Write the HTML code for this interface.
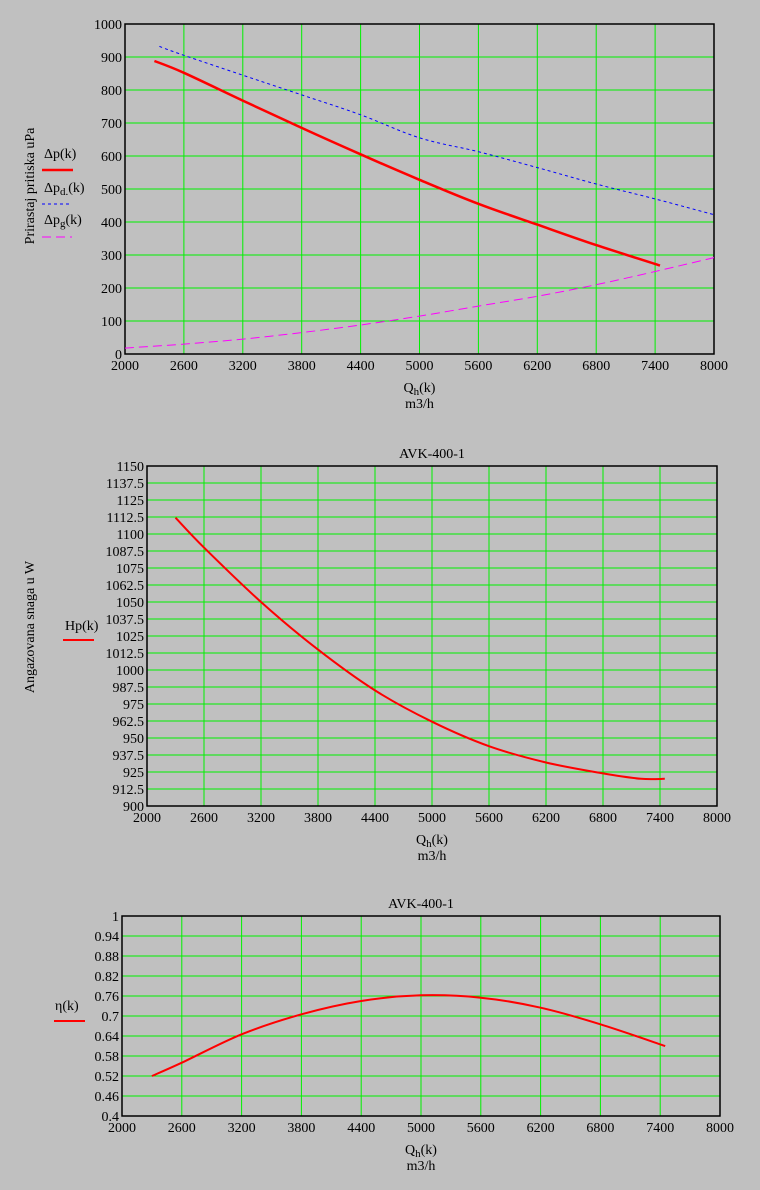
<!DOCTYPE html>
<html><head><meta charset="utf-8"><style>
body{margin:0;background:#c0c0c0;width:760px;height:1190px;overflow:hidden;font-family:"Liberation Serif",serif}
svg{position:absolute;left:0;top:0}
text{font-family:"Liberation Serif",serif;font-size:14px;fill:#000}
</style></head><body>
<svg id="s" width="760" height="1190"></svg>
<script>
const xCats=[2000,2600,3200,3800,4400,5000,5600,6200,6800,7400,8000];
const c1Q=[2300,2600,3200,3800,4400,5000,5600,6200,6800,7450];
const c1P=[888,852,768,685,605,528,455,392,330,268];
const c1Qd=[2350,2600,3200,3800,4400,5000,5600,6200,6800,7400,8000];
const c1Pd=[932,905,845,785,725,655,613,565,515,470,422];
const c1Qg=[2000,2600,3200,3800,4400,5000,5600,6200,6800,7400,8000];
const c1Pg=[18,30,45,65,88,115,145,175,210,250,292];
const c1Ticks=[0,100,200,300,400,500,600,700,800,900,1000];
const c2Q=[2300,2600,3200,3800,4400,5000,5600,6200,6800,7200,7450];
const c2H=[1112,1090,1050,1015,985,962,944,932,924,920,920];
const c2Ticks=["900","912.5","925","937.5","950","962.5","975","987.5","1000","1012.5","1025","1037.5","1050","1062.5","1075","1087.5","1100","1112.5","1125","1137.5","1150"];
const c3Q=[2300,2600,3200,3800,4400,5000,5600,6200,6800,7450];
const c3E=[0.52,0.56,0.645,0.705,0.745,0.762,0.755,0.725,0.675,0.61];
const c3Ticks=["0.4","0.46","0.52","0.58","0.64","0.7","0.76","0.82","0.88","0.94","1"];
const S=document.getElementById('s');const NS='http://www.w3.org/2000/svg';
function el(t,a,txt){const e=document.createElementNS(NS,t);for(const k in a)e.setAttribute(k,a[k]);if(txt!==undefined)e.textContent=txt;S.appendChild(e);return e;}
function chart(id,L,T,R,B,ymin,ymax,ticks){
  const sx=v=>L+(v-2000)/6000*(R-L), sy=v=>B-(v-ymin)/(ymax-ymin)*(B-T);
  xCats.forEach((v,i)=>{if(i>0&&i<xCats.length-1){const g=el('line',{x1:sx(v),x2:sx(v),y1:T,y2:B,stroke:'#00f000','stroke-width':1});
  }
  const t=el('text',{x:sx(v),y:B+16,'text-anchor':'middle'},v);
  });
  ticks.forEach((lab,i)=>{const v=ymin+i*(ymax-ymin)/(ticks.length-1);
  if(i>0&&i<ticks.length-1){const g=el('line',{x1:L,x2:R,y1:sy(v),y2:sy(v),stroke:'#00f000','stroke-width':1});
  }
  const t=el('text',{x:L-3,y:sy(v)+5,'text-anchor':'end'},lab);
  });
  const f=el('rect',{x:L,y:T,width:R-L,height:B-T,fill:'none',stroke:'#000','stroke-width':1.5});
  
  const xt=el('text',{x:(L+R)/2,y:B+38,'text-anchor':'middle'});xt.innerHTML='Q<tspan dy="3" font-size="11">h</tspan><tspan dy="-3">(k)</tspan>';
  
  const u=el('text',{x:(L+R)/2,y:B+54,'text-anchor':'middle','font-size':'13'},'m3/h');
  
  return {sx,sy};
}
function line(ax,xs,ys,name,st){
  const P=xs.map((x,i)=>[ax.sx(x),ax.sy(ys[i])]);
  let d='M'+P[0][0].toFixed(1)+','+P[0][1].toFixed(1);
  for(let i=0;i<P.length-1;i++){const p0=P[Math.max(i-1,0)],p1=P[i],p2=P[i+1],p3=P[Math.min(i+2,P.length-1)];
    const c1=[p1[0]+(p2[0]-p0[0])/6,p1[1]+(p2[1]-p0[1])/6],c2=[p2[0]-(p3[0]-p1[0])/6,p2[1]-(p3[1]-p1[1])/6];
    d+='C'+c1.map(v=>v.toFixed(1)).join(',')+' '+c2.map(v=>v.toFixed(1)).join(',')+' '+p2.map(v=>v.toFixed(1)).join(',');}
  const p=el('path',Object.assign({d,fill:'none'},st));}
function lbl(x,y,html,name,size){const t=el('text',{x,y,'font-size':size||14});t.innerHTML=html;return t;}
function seg(x1,x2,y,st,name){const l=el('line',Object.assign({x1,x2,y1:y,y2:y},st));}

const a1=chart('pressure-chart',125,24,714,354,0,1000,c1Ticks);
line(a1,c1Qd,c1Pd,'dp-d-series',{stroke:'#0000ff','stroke-width':1,'stroke-dasharray':'3,3'});
line(a1,c1Qg,c1Pg,'dp-g-series',{stroke:'#ff00ff','stroke-width':1,'stroke-dasharray':'9,5'});
line(a1,c1Q,c1P,'dp-series',{stroke:'#ff0000','stroke-width':2.5});
const yt1=el('text',{x:0,y:0,transform:'translate(34,186) rotate(-90)','text-anchor':'middle','font-size':'14'},'Prirastaj pritiska uPa');

lbl(44,158,'Δp(k)','legend-dp-label');seg(42,73,170,{stroke:'#ff0000','stroke-width':2.5},'legend-dp-swatch');
lbl(44,192,'Δp<tspan dy="3" font-size="11">d.</tspan><tspan dy="-3">(k)</tspan>','legend-dp-d-label');seg(42,70,204,{stroke:'#0000ff','stroke-dasharray':'3,3'},'legend-dp-d-swatch');
lbl(44,224,'Δp<tspan dy="3" font-size="11">g</tspan><tspan dy="-3">(k)</tspan>','legend-dp-g-label');seg(42,72,237,{stroke:'#ff00ff','stroke-dasharray':'9,5'},'legend-dp-g-swatch');

const a2=chart('power-chart',147,466,717,806,900,1150,c2Ticks);
line(a2,c2Q,c2H,'hp-series',{stroke:'#ff0000','stroke-width':2});
const ti2=el('text',{x:432,y:458,'text-anchor':'middle'},'AVK-400-1');
const yt2=el('text',{x:0,y:0,transform:'translate(34,627) rotate(-90)','text-anchor':'middle','font-size':'14'},'Angazovana snaga u W');

lbl(65,630,'Hp(k)','legend-hp-label');seg(63,94,640,{stroke:'#ff0000','stroke-width':2},'legend-hp-swatch');

const a3=chart('efficiency-chart',122,916,720,1116,0.4,1,c3Ticks);
line(a3,c3Q,c3E,'eta-series',{stroke:'#ff0000','stroke-width':2});
const ti3=el('text',{x:421,y:908,'text-anchor':'middle'},'AVK-400-1');
lbl(55,1010,'η(k)','legend-eta-label');seg(54,85,1021,{stroke:'#ff0000','stroke-width':2},'legend-eta-swatch');
</script>
</body></html>
